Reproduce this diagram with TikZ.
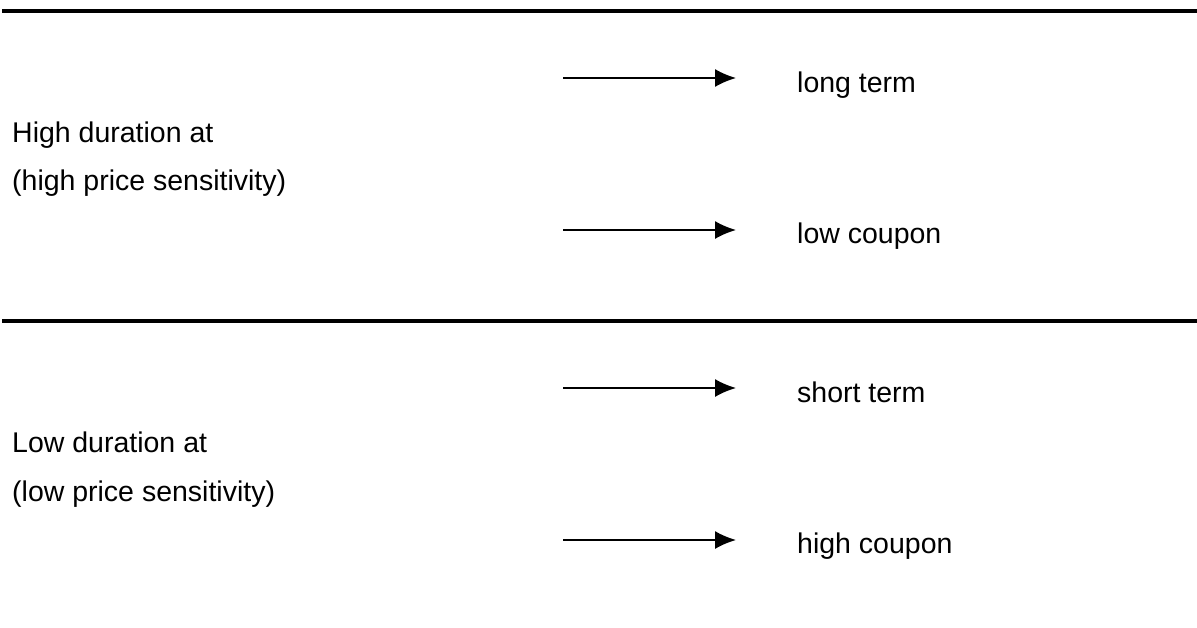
\documentclass[tikz,border=0pt]{standalone}
\usepackage{fontspec}
\setmainfont{Liberation Sans}
\usetikzlibrary{arrows.meta}
\begin{document}
\begin{tikzpicture}[x=1pt,y=-1pt,
  lbl/.style={anchor=base west,inner sep=0pt,font=\fontsize{28.5}{34}\selectfont},
  rule/.style={line width=4pt},
  arr/.style={line width=1.6pt,-{Latex[length=21pt,width=18pt]}}]
\useasboundingbox (0,0) rectangle (1197,627);
% rules
\coordinate (r1a) at (2,11); \coordinate (r1b) at (1197,11);
\coordinate (r2a) at (2,321); \coordinate (r2b) at (1197,321);
\draw[rule] (r1a) -- (r1b);
\draw[rule] (r2a) -- (r2b);
% left texts
\node[lbl] (hd) at (12,142) {High duration at};
\node[lbl] (hs) at (12,190) {(high price sensitivity)};
\node[lbl] (ld) at (12,452) {Low duration at};
\node[lbl] (ls) at (12,501) {(low price sensitivity)};
% right texts
\node[lbl] (lt) at (797,92) {long term};
\node[lbl] (lc) at (797,243) {low coupon};
\node[lbl] (st) at (797,402) {short term};
\node[lbl] (hc) at (797,553) {high coupon};
% arrows
\coordinate (a1s) at (563,78);  \coordinate (a1e) at (736,78);
\coordinate (a2s) at (563,230); \coordinate (a2e) at (736,230);
\coordinate (a3s) at (563,388); \coordinate (a3e) at (736,388);
\coordinate (a4s) at (563,540); \coordinate (a4e) at (736,540);
\draw[arr] (a1s) -- (a1e);
\draw[arr] (a2s) -- (a2e);
\draw[arr] (a3s) -- (a3e);
\draw[arr] (a4s) -- (a4e);
\end{tikzpicture}
\end{document}
